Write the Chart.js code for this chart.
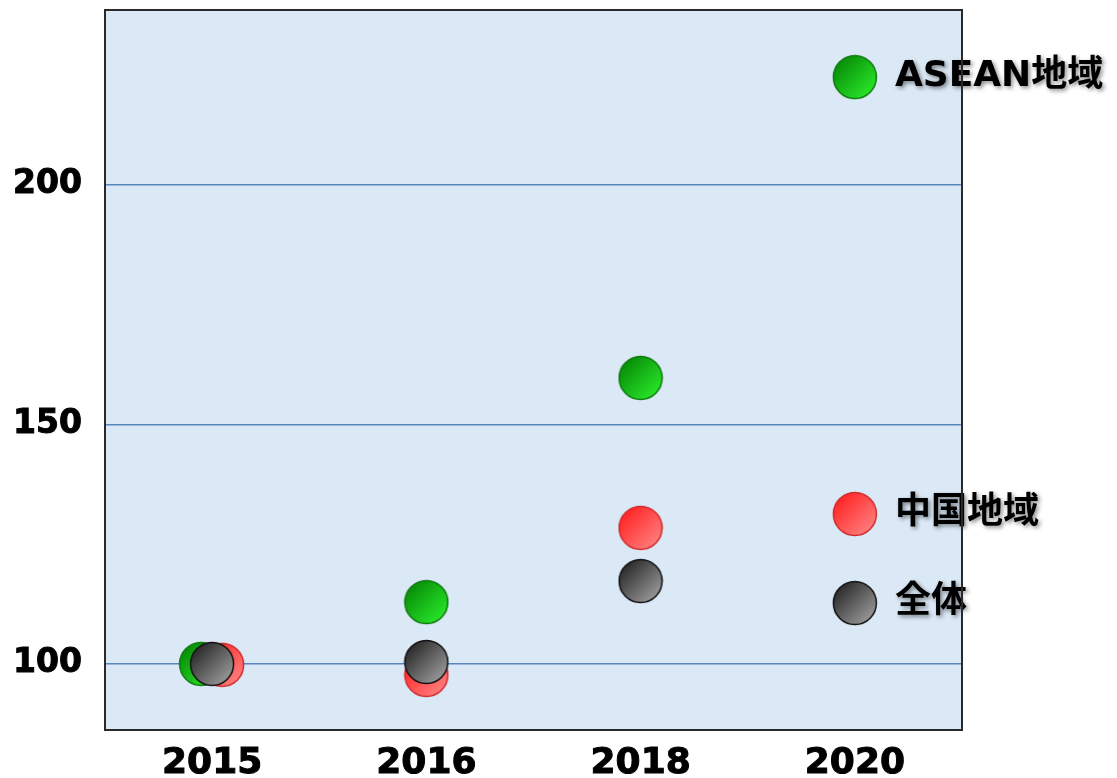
<!DOCTYPE html>
<html lang="ja">
<head>
<meta charset="utf-8">
<title>地域別推移</title>
<script src="https://cdn.jsdelivr.net/npm/chart.js@4.4.1/dist/chart.umd.min.js"></script>
<style>
  html, body { margin: 0; padding: 0; background: #fff; }
  #wrap { width: 1117px; height: 778px; }
</style>
</head>
<body>
<div id="wrap"><canvas id="chart" width="1117" height="778"></canvas></div>
<script>
// data (index, 2015 = 100)
const years = ['2015', '2016', '2018', '2020'];
const aseanValues = [100, 112.9, 159.7, 222.5];
const chinaValues = [99.8, 97.7, 128.4, 131.3];
const totalValues = [100, 100.4, 117.3, 112.7];
const yTicks = [100, 150, 200];

const FONT = '"DejaVu Sans", "Noto Sans CJK JP", sans-serif';

// shaded ball used as the point marker
function makeBall(from, to, edge) {
    const c = document.createElement('canvas');
    c.width = 46; c.height = 46;
    const g = c.getContext('2d');
    const grad = g.createLinearGradient(6, 6, 40, 40);
    grad.addColorStop(0, from);
    grad.addColorStop(1, to);
    g.beginPath();
    g.arc(23, 23, 21.5, 0, Math.PI * 2);
    g.fillStyle = grad;
    g.fill();
    g.lineWidth = 1.5;
    g.strokeStyle = edge;
    g.stroke();
    return c;
}

// points that sit on top of each other get nudged sideways
const dodge = { 'ASEAN地域': -11, '中国地域': 10, '全体': 0 };

const areaBackground = {
    id: 'areaBackground',
    beforeDraw(chart) {
        const { ctx, chartArea: a } = chart;
        ctx.save();
        ctx.fillStyle = '#dbe8f5';
        ctx.fillRect(a.left, a.top, a.right - a.left, a.bottom - a.top);
        ctx.restore();
    }
};

const dodgePoints = {
    id: 'dodgePoints',
    afterDatasetsUpdate(chart) {
        years.forEach((y, i) => {
            const vals = chart.data.datasets.map(ds => ds.data[i]);
            if (Math.max(...vals) - Math.min(...vals) > 1) return;
            chart.data.datasets.forEach((ds, d) => {
                const el = chart.getDatasetMeta(d).data[i];
                el.x += dodge[ds.label];
            });
        });
    }
};

const seriesLabels = {
    id: 'seriesLabels',
    afterDatasetsDraw(chart) {
        const ctx = chart.ctx;
        ctx.save();
        ctx.font = 'bold 36px ' + FONT;
        ctx.fillStyle = '#000';
        ctx.textBaseline = 'middle';
        ctx.shadowColor = 'rgba(0,0,0,0.45)';
        ctx.shadowBlur = 4;
        ctx.shadowOffsetX = 2;
        ctx.shadowOffsetY = 2;
        chart.data.datasets.forEach((ds, d) => {
            const pts = chart.getDatasetMeta(d).data;
            const last = pts[pts.length - 1];
            ctx.fillText(ds.label, last.x + 40, last.y);
        });
        ctx.restore();
    }
};

const areaBorder = {
    id: 'areaBorder',
    afterDraw(chart) {
        const { ctx, chartArea: a } = chart;
        ctx.save();
        ctx.strokeStyle = '#2a2a2a';
        ctx.lineWidth = 2;
        ctx.strokeRect(a.left, a.top, a.right - a.left, a.bottom - a.top);
        ctx.restore();
    }
};

new Chart(document.getElementById('chart'), {
    type: 'line',
    data: {
        labels: years,
        datasets: [
            {
                label: 'ASEAN地域',
                data: aseanValues,
                order: 2,
                pointStyle: makeBall('#078a07', '#2ae82a', '#0c7a0c')
            },
            {
                label: '中国地域',
                data: chinaValues,
                order: 1,
                pointStyle: makeBall('#ff2222', '#ff8080', '#d02a2a')
            },
            {
                label: '全体',
                data: totalValues,
                order: 0,
                pointStyle: makeBall('#262626', '#9c9c9c', '#111111')
            }
        // the image marker sets the size; a small radius keeps the layout from adding overflow padding
        ].map(ds => Object.assign({ showLine: false, pointRadius: 1, pointHoverRadius: 1, pointBorderWidth: 0 }, ds))
    },
    options: {
        responsive: false,
        animation: false,
        devicePixelRatio: 1,
        layout: { padding: { top: 10, right: 155, left: 0, bottom: 0 } },
        plugins: { legend: { display: false }, tooltip: { enabled: false } },
        scales: {
            x: {
                type: 'category',
                offset: true,
                grid: { display: false },
                border: { display: false },
                ticks: {
                    color: '#000', padding: 4, textStrokeColor: '#000', textStrokeWidth: 1,
                    font: { family: FONT, size: 36, weight: 'bold' }
                },
                afterFit(scale) {
                    scale.height = 48;
                    scale.paddingLeft = 0;
                    scale.paddingRight = 0;
                }
            },
            y: {
                min: 86.2,
                max: 236.5,
                grid: { color: '#5a86bf', lineWidth: 1.5, drawTicks: false },
                border: { display: false },
                ticks: {
                    color: '#000', padding: 23, textStrokeColor: '#000', textStrokeWidth: 1,
                    font: { family: FONT, size: 33, weight: 'bold' }
                },
                afterBuildTicks(scale) { scale.ticks = yTicks.map(v => ({ value: v })); },
                afterFit(scale) {
                    scale.width = 105;
                    scale.paddingTop = 0;
                    scale.paddingBottom = 0;
                }
            }
        }
    },
    plugins: [areaBackground, dodgePoints, seriesLabels, areaBorder]
});
</script>
</body>
</html>
